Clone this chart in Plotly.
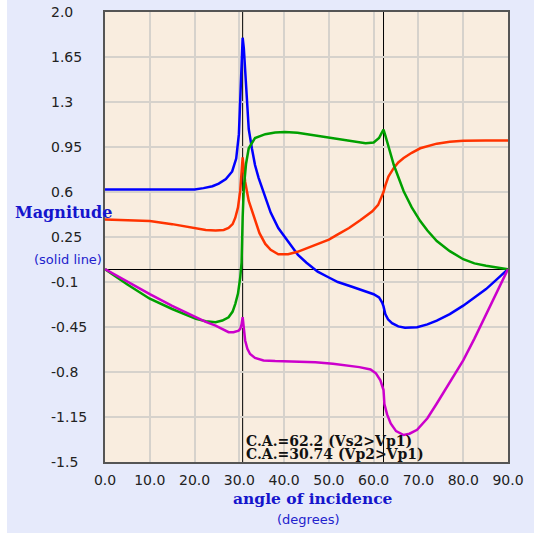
import plotly.graph_objects as go

# ---------------- data ----------------
blue_x = [0, 10, 20, 22, 24, 25.4, 27, 28.4, 29.3, 29.9, 30.2, 30.4, 30.74, 31.0, 31.3, 31.7, 32.1, 32.8,
          33.5, 34.3, 35.8, 37, 38.7, 40.5, 43.1, 45, 47.5, 50, 52, 55, 58.2, 60, 61.2, 61.9, 62.2, 62.6,
          63.2, 64.1, 65.5, 67, 69.7, 72, 74.1, 77, 80, 82.5, 85.1, 87.5, 90]
blue_y = [0.62, 0.62, 0.62, 0.63, 0.645, 0.665, 0.70, 0.76, 0.86, 1.05, 1.30, 1.51, 1.80, 1.72, 1.52, 1.28,
          1.09, 0.94, 0.81, 0.71, 0.55, 0.44, 0.32, 0.23, 0.11, 0.05, -0.02, -0.065, -0.10, -0.135, -0.17,
          -0.195, -0.22, -0.26, -0.29, -0.35, -0.39, -0.42, -0.445, -0.455, -0.452, -0.43, -0.40, -0.35,
          -0.284, -0.22, -0.155, -0.08, 0.0]

red_x = [0, 5, 10, 15, 20.3, 22.5, 24.7, 26.5, 27.6, 28.5, 29.1, 29.7, 30.2, 30.5, 30.74, 31.0, 31.3, 32.1,
         33.5, 34.5, 35.8, 37, 38.7, 40.9, 43, 45.3, 47.5, 50, 52, 54.5, 57, 59.7, 61, 61.9, 62.2, 62.6,
         63.3, 64.5, 65.5, 66.7, 68.5, 70.4, 74.1, 77, 80, 85, 90]
red_y = [0.387, 0.382, 0.374, 0.35, 0.32, 0.305, 0.30, 0.305, 0.32, 0.35, 0.40, 0.48, 0.61, 0.78, 0.87, 0.78,
         0.68, 0.53, 0.376, 0.28, 0.196, 0.15, 0.116, 0.116, 0.135, 0.167, 0.194, 0.23, 0.27, 0.32, 0.38,
         0.45, 0.50, 0.567, 0.60, 0.65, 0.72, 0.787, 0.83, 0.864, 0.905, 0.94, 0.976, 0.99, 0.999, 1.0, 1.0]

green_x = [0, 5, 10, 15, 20.3, 22.5, 24.7, 26.2, 27.6, 28.5, 29.1, 29.7, 30.2, 30.5, 30.74, 31.0, 31.5, 32.1,
           33.5, 35.8, 38, 40.2, 43, 46, 50.9, 55, 58.2, 60, 61.2, 61.8, 62.2, 62.6, 63.3, 64.1, 64.5, 66.7,
           68.5, 70.4, 72, 74.1, 77, 80, 82.5, 85.1, 87.5, 90]
green_y = [0.0, -0.12, -0.23, -0.31, -0.387, -0.405, -0.413, -0.40, -0.374, -0.33, -0.27, -0.19, -0.065, 0.05,
           0.40, 0.63, 0.82, 0.94, 1.02, 1.05, 1.062, 1.066, 1.06, 1.045, 1.02, 0.995, 0.98, 0.985, 1.02, 1.06,
           1.085, 1.04, 0.95, 0.85, 0.81, 0.606, 0.48, 0.374, 0.30, 0.219, 0.14, 0.077, 0.045, 0.026, 0.012, 0.0]

mag_x = [0, 5, 10, 15, 20.3, 22.5, 24.7, 26.2, 27.6, 28.7, 29.85, 30.2, 30.5, 30.74, 31.0, 31.3, 31.8, 32.4,
         33.5, 35.4, 38, 43.5, 47, 50.9, 54, 56.8, 59.3, 60.5, 61.5, 62.2, 62.4, 63, 63.8, 65, 66.7, 68,
         69.7, 72, 74.1, 77, 80, 82.5, 85.1, 87.5, 90]
mag_y = [0.0, -0.10, -0.194, -0.285, -0.374, -0.41, -0.44, -0.465, -0.49, -0.49, -0.478, -0.465, -0.43,
         -0.374, -0.48, -0.555, -0.62, -0.66, -0.69, -0.71, -0.715, -0.718, -0.725, -0.736, -0.75, -0.762,
         -0.78, -0.81, -0.865, -0.94, -1.05, -1.13, -1.2, -1.26, -1.29, -1.28, -1.25, -1.16, -1.045, -0.88,
         -0.71, -0.54, -0.35, -0.17, 0.0]

crit_angles = [62.2, 30.74]
crit_labels = ["C.A.=62.2 (Vs2>Vp1)", "C.A.=30.74 (Vp2>Vp1)"]
crit_label_y = [-1.335, -1.44]

x_ticks = [0, 10, 20, 30, 40, 50, 60, 70, 80, 90]
x_tick_text = ["0.0", "10.0", "20.0", "30.0", "40.0", "50.0", "60.0", "70.0", "80.0", "90.0"]
y_ticks = [2.0, 1.65, 1.3, 0.95, 0.6, 0.25, -0.1, -0.45, -0.8, -1.15, -1.5]
y_tick_text = ["2.0", "1.65", "1.3", "0.95", "0.6", "0.25", "-0.1", "-0.45", "-0.8", "-1.15", "-1.5"]

# ---------------- figure ----------------
fig = go.Figure()
series = [(blue_x, blue_y, "#0000ff"), (red_x, red_y, "#ff3300"),
          (green_x, green_y, "#00a000"), (mag_x, mag_y, "#cc00cc")]
for xs, ys, c in series:
    fig.add_trace(go.Scatter(x=xs, y=ys, mode="lines", line=dict(color=c, width=2.5),
                             showlegend=False, hoverinfo="skip"))

grid_c = "#d6d2cc"
fig.update_layout(
    width=534, height=533,
    margin=dict(l=105, r=22, t=10, b=71),
    paper_bgcolor="#e6eafb",
    plot_bgcolor="#f9eddf",
    xaxis=dict(range=[0, 90], tickvals=x_ticks, ticktext=x_tick_text, ticks="",
               ticklabelstandoff=4,
               tickfont=dict(family="DejaVu Sans", size=14, color="#222"),
               showgrid=True, gridcolor=grid_c, gridwidth=2, zeroline=False,
               showline=True, mirror=True, linecolor="#555", linewidth=1.5),
    yaxis=dict(range=[-1.5, 2.0], tickvals=y_ticks, showticklabels=False, ticks="",
               showgrid=True, gridcolor=grid_c, gridwidth=2,
               zeroline=True, zerolinecolor="#000", zerolinewidth=1,
               showline=True, mirror=True, linecolor="#555", linewidth=1.5),
)

# white strip at far left of the canvas
fig.add_shape(type="rect", xref="paper", yref="paper", x0=-0.3, x1=-0.2432, y0=-0.2, y1=1.1,
              fillcolor="white", line=dict(width=0), layer="below")

for a in crit_angles:
    fig.add_shape(type="line", xref="x", yref="paper", x0=a, x1=a, y0=0, y1=1,
                  line=dict(color="#000", width=1), layer="between")

for a, t, yy in zip(crit_angles, crit_labels, crit_label_y):
    fig.add_annotation(x=crit_angles[1], y=yy, xref="x", yref="y", text=t, showarrow=False,
                       xanchor="left", yanchor="middle", xshift=1,
                       font=dict(family="DejaVu Serif", size=14, color="#111", weight="bold"))

for v, t in zip(y_ticks, y_tick_text):
    fig.add_annotation(x=-0.140, y=v, xref="paper", yref="y", text=t, showarrow=False,
                       xanchor="left", yanchor="middle",
                       font=dict(family="DejaVu Sans", size=14, color="#222"))

fig.add_annotation(x=-0.104, y=0.5538, xref="paper", yref="paper", text="<b>Magnitude</b>",
                   showarrow=False, xanchor="center", yanchor="middle",
                   font=dict(family="DejaVu Serif", size=16, color="#1515cc"))
fig.add_annotation(x=-0.092, y=0.449, xref="paper", yref="paper", text="(solid line)",
                   showarrow=False, xanchor="center", yanchor="middle",
                   font=dict(family="DejaVu Sans", size=13, color="#2222cc"))
fig.add_annotation(x=0.516, y=-0.0819, xref="paper", yref="paper", text="<b>angle of incidence</b>",
                   showarrow=False, xanchor="center", yanchor="middle",
                   font=dict(family="DejaVu Serif", size=15.5, color="#1515cc"))
fig.add_annotation(x=0.504, y=-0.128, xref="paper", yref="paper", text="(degrees)",
                   showarrow=False, xanchor="center", yanchor="middle",
                   font=dict(family="DejaVu Sans", size=13, color="#2222cc"))

fig.write_html("out.html")
